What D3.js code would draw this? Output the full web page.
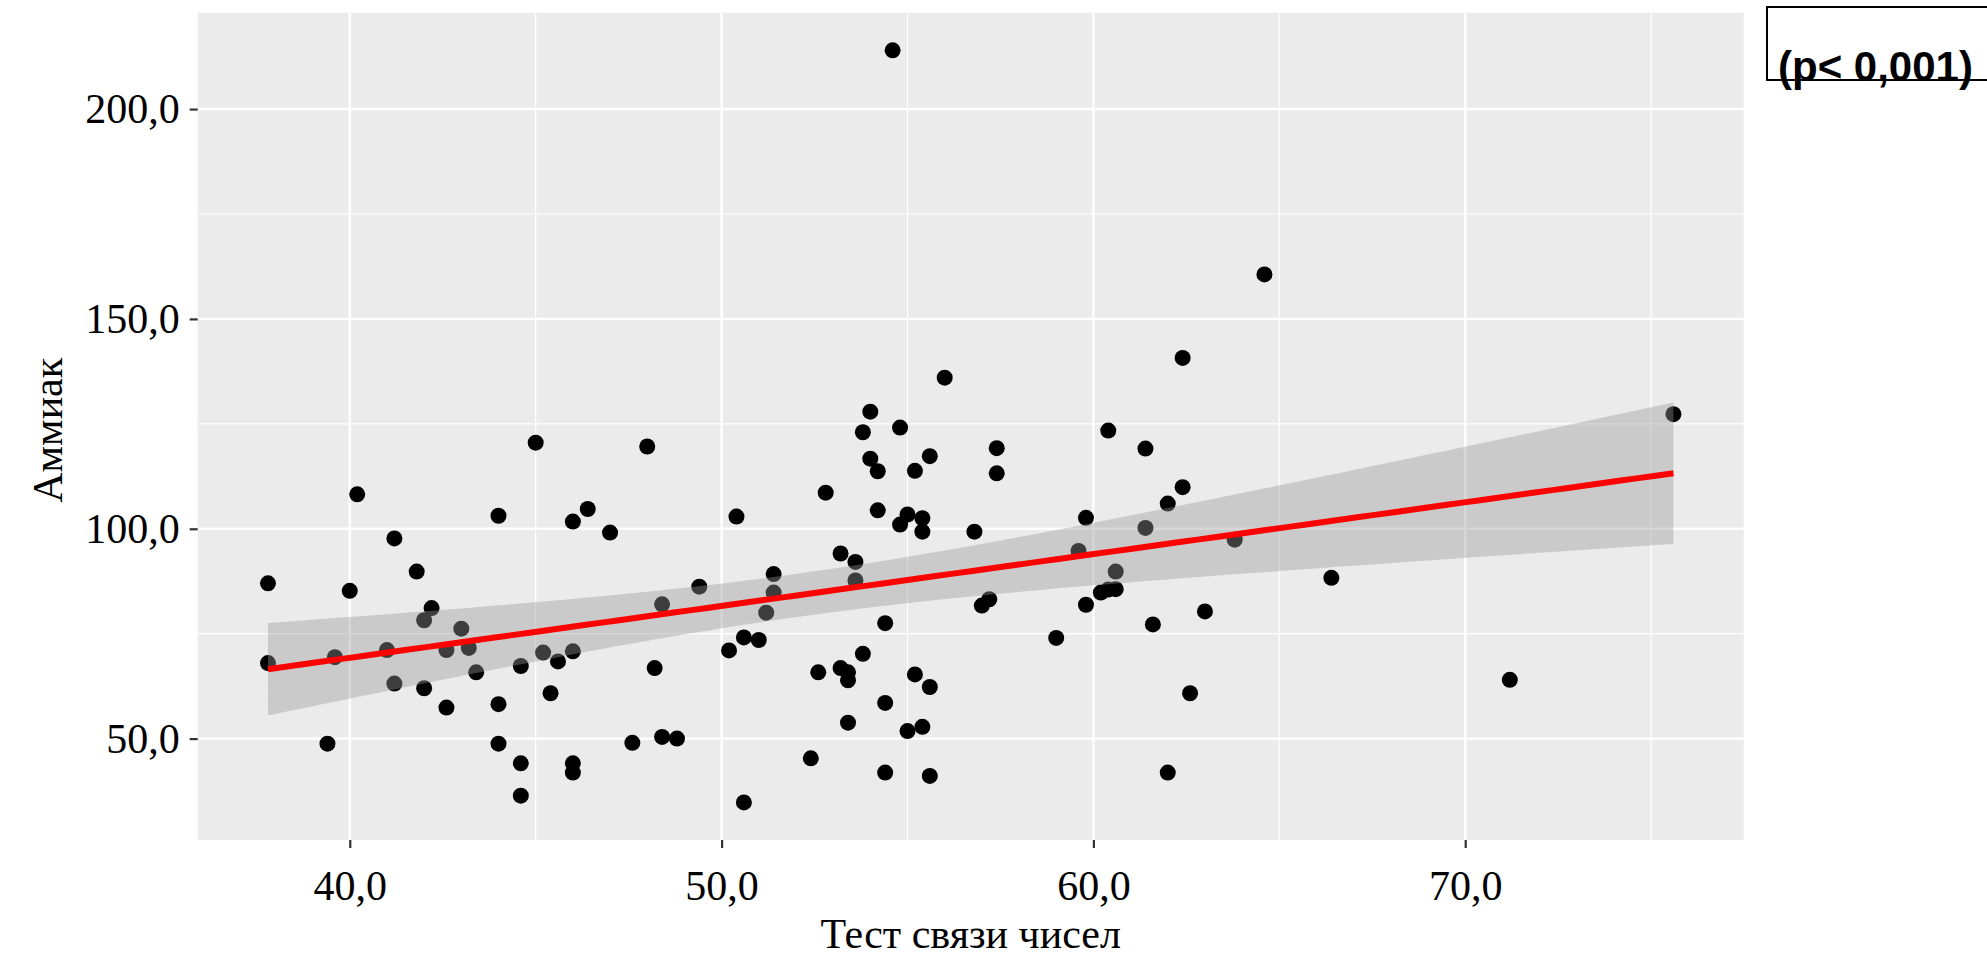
<!DOCTYPE html>
<html lang="ru">
	<head>
		<meta charset="utf-8">
		<title>Аммиак и тест связи чисел</title>
		<script type="text/javascript" src="https://cdn.jsdelivr.net/npm/d3@7"></script>
		<style type="text/css">
			body { margin: 0; background: #fff; }
			svg { display: block; }
		</style>
	</head>

	<body>
		<script type="text/javascript">

		// chart size
		var w = 1987;
		var h = 959;
		var margin = {top: 12.7, right: 243.3, bottom: 119, left: 197.7};

		// Тест связи чисел (x) and Аммиак (y), one entry per patient
		var testScores = [
			37.8, 37.8, 39.4, 39.6, 40.0, 40.2, 41.0, 41.2, 41.2, 41.8,
			42.0, 42.2, 42.0, 42.6, 42.6, 43.0, 43.2, 43.4, 44.0, 44.0,
			44.0, 44.6, 44.6, 44.6, 45.0, 45.2, 45.4, 45.6, 46.0, 46.0,
			46.0, 46.0, 46.4, 47.0, 47.6, 48.0, 48.2, 48.4, 48.4, 48.8,
			49.4, 50.2, 50.4, 50.6, 50.6, 51.0, 51.2, 51.4, 51.4, 52.4,
			52.6, 52.8, 53.2, 53.2, 53.4, 53.4, 53.4, 53.6, 53.6, 53.8,
			53.8, 54.0, 54.0, 54.2, 54.2, 54.4, 54.4, 54.4, 54.6, 54.8,
			54.8, 55.0, 55.0, 55.2, 55.2, 55.4, 55.4, 55.4, 55.6, 55.6,
			55.6, 56.0, 56.8, 57.0, 57.2, 57.4, 57.4, 59.0, 59.6, 59.8,
			59.8, 60.2, 60.4, 60.4, 60.6, 60.6, 61.4, 61.4, 61.6, 62.0,
			62.0, 62.4, 62.4, 62.6, 63.0, 63.8, 64.6, 66.4, 71.2, 75.6
		];
		var ammonia = [
			87.0, 68.0, 48.8, 69.4, 85.2, 108.2, 71.1, 97.7, 63.1, 89.8,
			78.2, 81.1, 62.0, 71.1, 57.4, 76.2, 71.6, 65.8, 103.1, 58.2,
			48.8, 67.3, 44.1, 36.4, 120.5, 70.5, 60.8, 68.4, 101.7, 70.8,
			44.1, 41.9, 104.7, 99.1, 49.0, 119.6, 66.8, 82.0, 50.4, 50.0,
			86.2, 71.0, 102.9, 74.1, 34.8, 73.5, 80.0, 89.2, 84.8, 45.3,
			65.8, 108.6, 94.1, 66.8, 65.8, 63.9, 53.8, 92.1, 87.7, 123.0,
			70.2, 127.9, 116.7, 113.7, 104.4, 77.5, 58.5, 41.9, 214.0, 124.1,
			101.0, 103.4, 51.8, 113.8, 65.3, 102.5, 99.3, 52.8, 117.3, 62.3,
			41.1, 136.0, 99.3, 81.7, 83.2, 119.2, 113.2, 74.0, 94.7, 102.6,
			81.9, 84.8, 123.4, 85.5, 85.6, 89.8, 119.1, 100.2, 77.2, 106.0,
			41.9, 140.7, 109.9, 60.8, 80.3, 97.4, 160.6, 88.3, 64.0, 127.3
		];

		var xTicks = [40, 50, 60, 70];
		var xMinor = [45, 55, 65, 75];
		var yTicks = [50, 100, 150, 200];
		var yMinor = [75, 125, 175];

		var xTitle = "Тест связи чисел";
		var yTitle = "Аммиак";
		var pLabel = "(p< 0,001)";

		var points = testScores.map(function(d, i){ return {x: d, y: ammonia[i]}; });

		// linear fit + 95% confidence band (like geom_smooth(method = "lm"))
		var n = points.length;
		var xMean = d3.mean(points, function(d){ return d.x; });
		var yMean = d3.mean(points, function(d){ return d.y; });
		var sxx = d3.sum(points, function(d){ return (d.x - xMean) * (d.x - xMean); });
		var sxy = d3.sum(points, function(d){ return (d.x - xMean) * (d.y - yMean); });
		var slope = sxy / sxx;
		var intercept = yMean - slope * xMean;
		var sse = d3.sum(points, function(d){ var r = d.y - (intercept + slope * d.x); return r * r; });
		var sigma = Math.sqrt(sse / (n - 2));
		var tCrit = 1.982; // t(0.975, df = 108)

		var xExtent = d3.extent(testScores);
		var fit = d3.range(0, 81).map(function(i){
			var x = xExtent[0] + (xExtent[1] - xExtent[0]) * i / 80;
			var yhat = intercept + slope * x;
			var se = sigma * Math.sqrt(1 / n + (x - xMean) * (x - xMean) / sxx);
			return {x: x, y: yhat, lo: yhat - tCrit * se, hi: yhat + tCrit * se};
		});

		// ggplot style 5% expansion
		function expand(ext){
			var pad = (ext[1] - ext[0]) * 0.05;
			return [ext[0] - pad, ext[1] + pad];
		}

		var x = d3.scaleLinear()
			.domain(expand(xExtent))
			.range([margin.left, w - margin.right]);
		var y = d3.scaleLinear()
			.domain(expand(d3.extent(ammonia)))
			.range([h - margin.bottom, margin.top]);

		var ruFormat = d3.formatLocale({decimal: ",", thousands: " ", grouping: [3], currency: ["", ""]}).format(".1f");

		var svg = d3.select("body")
			.append("svg")
			.attr("width", w)
			.attr("height", h);

		// panel
		svg.append("rect")
			.attr("x", margin.left)
			.attr("y", margin.top)
			.attr("width", w - margin.left - margin.right)
			.attr("height", h - margin.top - margin.bottom)
			.attr("fill", "#ebebeb");

		// grid, minor first
		var grid = svg.append("g");
		grid.selectAll(".xminor").data(xMinor).enter().append("line")
			.attr("x1", function(d){ return x(d); }).attr("x2", function(d){ return x(d); })
			.attr("y1", margin.top).attr("y2", h - margin.bottom)
			.attr("stroke", "#fff").attr("stroke-width", 1.2);
		grid.selectAll(".yminor").data(yMinor).enter().append("line")
			.attr("y1", function(d){ return y(d); }).attr("y2", function(d){ return y(d); })
			.attr("x1", margin.left).attr("x2", w - margin.right)
			.attr("stroke", "#fff").attr("stroke-width", 1.2);
		grid.selectAll(".xmajor").data(xTicks).enter().append("line")
			.attr("x1", function(d){ return x(d); }).attr("x2", function(d){ return x(d); })
			.attr("y1", margin.top).attr("y2", h - margin.bottom)
			.attr("stroke", "#fff").attr("stroke-width", 2.4);
		grid.selectAll(".ymajor").data(yTicks).enter().append("line")
			.attr("y1", function(d){ return y(d); }).attr("y2", function(d){ return y(d); })
			.attr("x1", margin.left).attr("x2", w - margin.right)
			.attr("stroke", "#fff").attr("stroke-width", 2.4);

		// points
		svg.append("g")
			.selectAll("circle")
			.data(points)
			.enter()
			.append("circle")
			.attr("cx", function(d){ return x(d.x); })
			.attr("cy", function(d){ return y(d.y); })
			.attr("r", 8)
			.attr("fill", "#000");

		// confidence band over the points
		svg.append("path")
			.datum(fit)
			.attr("d", d3.area()
				.x(function(d){ return x(d.x); })
				.y0(function(d){ return y(d.lo); })
				.y1(function(d){ return y(d.hi); }))
			.attr("fill", "#999999")
			.attr("fill-opacity", 0.4);

		svg.append("path")
			.datum(fit)
			.attr("d", d3.line()
				.x(function(d){ return x(d.x); })
				.y(function(d){ return y(d.y); }))
			.attr("fill", "none")
			.attr("stroke", "#ff0000")
			.attr("stroke-width", 6);

		// axes
		var xAxis = svg.append("g")
			.attr("transform", "translate(0," + (h - margin.bottom) + ")")
			.call(d3.axisBottom(x).tickValues(xTicks).tickFormat(ruFormat).tickSize(8).tickPadding(10));
		var yAxis = svg.append("g")
			.attr("transform", "translate(" + margin.left + ",0)")
			.call(d3.axisLeft(y).tickValues(yTicks).tickFormat(ruFormat).tickSize(8).tickPadding(10));

		[xAxis, yAxis].forEach(function(a){
			a.select(".domain").remove();
			a.selectAll(".tick line").attr("stroke", "#333").attr("stroke-width", 2.2);
			a.selectAll(".tick text")
				.attr("fill", "#000")
				.style("font-family", "'Liberation Serif', 'DejaVu Serif', serif")
				.style("font-size", "42px");
		});
		xAxis.selectAll(".tick text").attr("dy", "1em");

		// titles
		svg.append("text")
			.attr("x", (margin.left + w - margin.right) / 2)
			.attr("y", 948)
			.attr("text-anchor", "middle")
			.style("font-family", "'Liberation Serif', 'DejaVu Serif', serif")
			.style("font-size", "42px")
			.text(xTitle);

		svg.append("text")
			.attr("transform", "translate(62," + ((margin.top + h - margin.bottom) / 2 + 4) + ") rotate(-90)")
			.attr("text-anchor", "middle")
			.style("font-family", "'Liberation Serif', 'DejaVu Serif', serif")
			.style("font-size", "42px")
			.text(yTitle);

		// p-value box in the corner
		svg.append("rect")
			.attr("x", 1767)
			.attr("y", 7)
			.attr("width", 240)
			.attr("height", 73)
			.attr("fill", "#fff")
			.attr("stroke", "#000")
			.attr("stroke-width", 2);

		svg.append("text")
			.attr("x", 1778)
			.attr("y", 81)
			.style("font-family", "'Liberation Sans', Arial, sans-serif")
			.style("font-weight", "bold")
			.style("font-size", "42px")
			.text(pLabel);

		</script>
	</body>
</html>
